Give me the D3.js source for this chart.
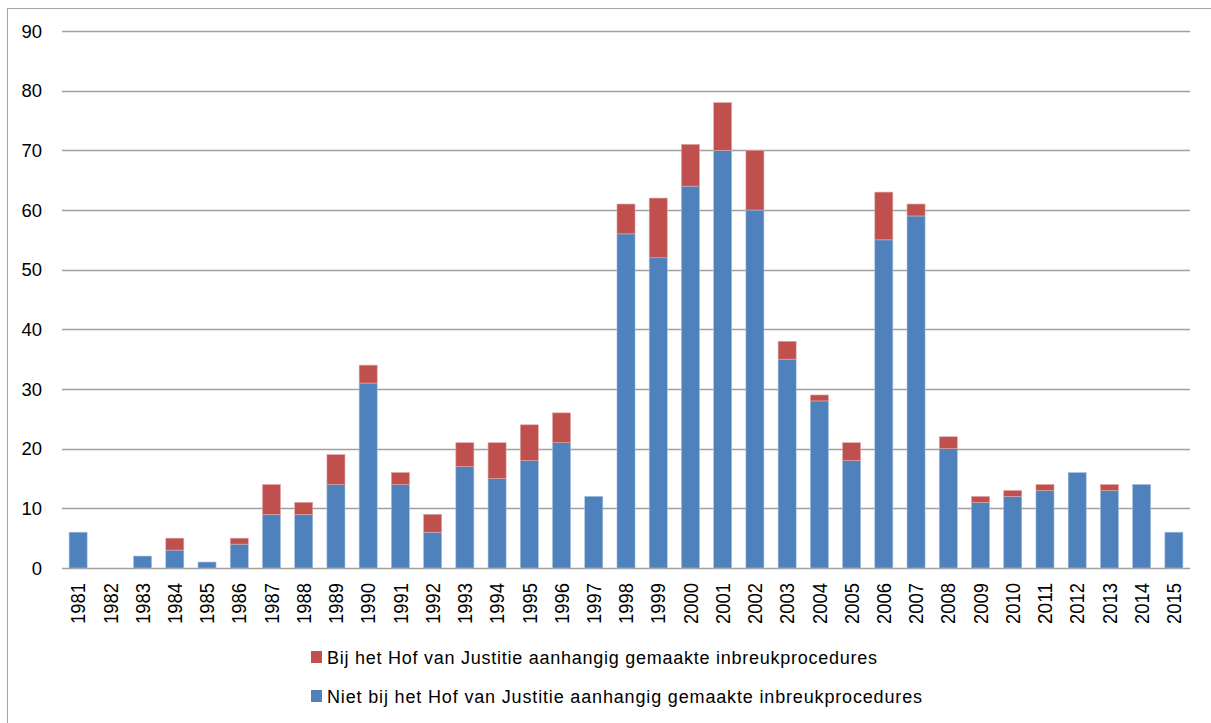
<!DOCTYPE html>
<html><head><meta charset="utf-8">
<script src="https://cdn.jsdelivr.net/npm/d3@7"></script>
<style>body{margin:0;background:#fff;} svg{display:block;font-family:"Liberation Sans",Arial,sans-serif;}</style>
</head><body>
<svg id="c" width="1211" height="723"></svg>
<script>
const years = ["1981","1982","1983","1984","1985","1986","1987","1988","1989","1990","1991","1992","1993","1994","1995","1996","1997","1998","1999","2000","2001","2002","2003","2004","2005","2006","2007","2008","2009","2010","2011","2012","2013","2014","2015"];
const nietHof = [6,0,2,3,1,4,9,9,14,31,14,6,17,15,18,21,12,56,52,64,70,60,35,28,18,55,59,20,11,12,13,16,13,14,6];
const bijHof  = [0,0,0,2,0,1,5,2,5,3,2,3,4,6,6,5,0,5,10,7,8,10,3,1,3,8,2,2,1,1,1,0,1,0,0];
const yTicks = [0,10,20,30,40,50,60,70,80,90];
const seriesNames = ["Bij het Hof van Justitie aanhangig gemaakte inbreukprocedures","Niet bij het Hof van Justitie aanhangig gemaakte inbreukprocedures"];
const colors = {blue:"#4F81BD", red:"#C0504D"};

const svg = d3.select("#c");
// outer frame
svg.append("rect").attr("x",7.5).attr("y",8.5).attr("width",1210).attr("height",730)
  .attr("fill","none").attr("stroke","#a6a6a6").attr("stroke-width",1);

const pLeft=62, pRight=1190, pTop=31, pBottom=568;
const x = d3.scaleBand().domain(years).range([pLeft,pRight]).paddingInner(0.44).paddingOuter(0.22);
const y = d3.scaleLinear().domain([0,90]).range([pBottom,pTop]);

// gridlines
svg.append("g").selectAll("line").data(yTicks).join("line")
  .attr("x1",pLeft).attr("x2",pRight)
  .attr("y1",d=>Math.round(y(d))+0.5).attr("y2",d=>Math.round(y(d))+0.5)
  .attr("stroke","#a0a0a0").attr("stroke-width",1.3);

// y labels
svg.append("g").selectAll("text").data(yTicks).join("text")
  .attr("x",42).attr("y",d=>y(d)).attr("dy","0.36em").attr("text-anchor","end")
  .attr("font-size",18.5).attr("fill","#000").text(d=>d);

const data = years.map((yr,i)=>({yr, a:nietHof[i], b:bijHof[i]}));
const g = svg.append("g");
g.selectAll("rect.blue").data(data.filter(d=>d.a>0)).join("rect")
  .attr("x",d=>x(d.yr)).attr("width",x.bandwidth())
  .attr("y",d=>y(d.a)).attr("height",d=>y(0)-y(d.a))
  .attr("fill",colors.blue).attr("stroke","#a7c0dc").attr("stroke-width",0.6);
g.selectAll("rect.red").data(data.filter(d=>d.b>0)).join("rect")
  .attr("x",d=>x(d.yr)).attr("width",x.bandwidth())
  .attr("y",d=>y(d.a+d.b)).attr("height",d=>y(d.a)-y(d.a+d.b))
  .attr("fill",colors.red).attr("stroke","#e0a9a8").attr("stroke-width",0.6);

// x labels
svg.append("g").selectAll("text").data(years).join("text")
  .attr("transform",d=>`translate(${x(d)+x.bandwidth()/2},583) rotate(-90)`)
  .attr("text-anchor","end").attr("dy","0.36em")
  .attr("font-size",20).attr("textLength",41).attr("lengthAdjust","spacingAndGlyphs")
  .attr("fill","#000").text(d=>d);

// legend
const leg = svg.append("g");
const legItems = [{name:seriesNames[0], c:colors.red, y:664, w:550},{name:seriesNames[1], c:colors.blue, y:703, w:595}];
legItems.forEach(it=>{
  leg.append("rect").attr("x",311).attr("y",it.y-13).attr("width",11).attr("height",12).attr("fill",it.c);
  leg.append("text").attr("x",327).attr("y",it.y).attr("font-size",18)
    .attr("textLength",it.w).attr("lengthAdjust","spacing").attr("fill","#000").text(it.name);
});
</script>
</body></html>
